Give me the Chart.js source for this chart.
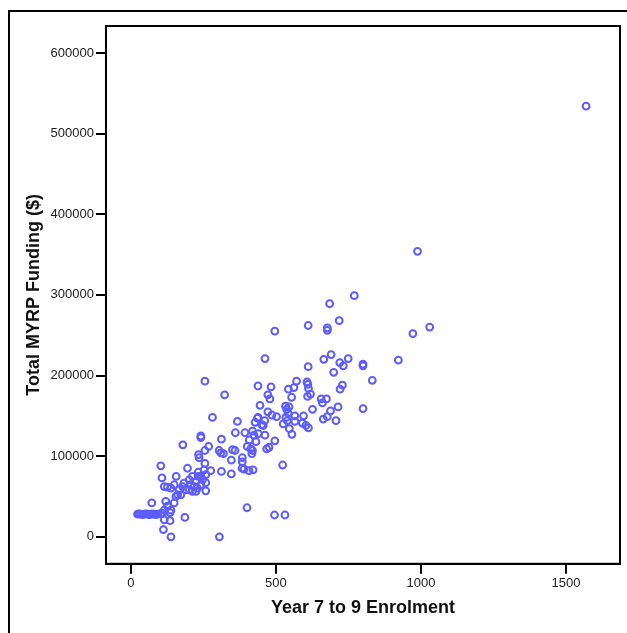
<!DOCTYPE html>
<html>
<head>
<meta charset="utf-8">
<script src="https://cdn.jsdelivr.net/npm/chart.js@4/dist/chart.umd.min.js"></script>
<style>
  html, body { margin: 0; padding: 0; background: #fff; overflow: hidden; }
  #wrap { position: relative; width: 627px; height: 633px; }
</style>
</head>
<body>
<div id="wrap"><canvas id="scatter" width="627" height="633"></canvas></div>
<script>
// Year 7 to 9 enrolment (x) against total MYRP funding in dollars (y)
const enrolment = [
  1569, 988, 1030, 972, 922, 770, 685, 611, 718, 677, 677, 496, 462, 690, 665, 720, 732, 749,
  800, 800, 611, 699, 832, 255, 571, 607, 610, 543, 562, 612, 729, 721, 438, 483, 323, 472,
  479, 554, 609, 619, 445, 533, 545, 656, 674, 660, 714, 800, 626, 688, 677, 663, 707, 537,
  542, 472, 486, 502, 438, 534, 539, 565, 565, 595, 591, 603, 612, 525, 546, 555, 367, 281,
  428, 451, 461, 456, 436, 393, 419, 424, 439, 360, 462, 312, 241, 241, 408, 431, 401, 413,
  417, 419, 496, 268, 255, 304, 310, 319, 350, 359, 346, 468, 476, 384, 384, 383, 390, 407,
  421, 523, 346, 312, 255, 275, 258, 258, 247, 258, 241, 179, 233, 235, 195, 103, 107, 156,
  72, 120, 126, 115, 109, 138, 149, 155, 161, 172,
  23, 28, 34, 40, 46, 52, 57, 63, 69, 75, 80, 86, 92, 103,
  135, 135, 115, 112, 138, 186, 305, 400, 495, 531,
  232, 224, 241, 218, 206, 201, 189, 212, 224, 229, 178, 166, 149, 138, 126, 115, 201, 212,
  252, 183, 232
];
const funding = [
  534000, 354000, 260000, 252000, 219000, 299000, 289000, 262000, 268000, 259000, 256000, 255000, 221000, 226000, 220000, 216000, 212000, 221000,
  214000, 212000, 211000, 204000, 194000, 193000, 193000, 192000, 189000, 183000, 185000, 184000, 188000, 183000, 187000, 186000, 176000, 176000,
  171000, 173000, 174000, 177000, 163000, 162000, 161000, 171000, 171000, 166000, 161000, 159000, 158000, 156000, 149000, 146000, 144000, 158000,
  153000, 155000, 151000, 149000, 148000, 148000, 144000, 150000, 143000, 150000, 141000, 138000, 135000, 140000, 134000, 127000, 143000, 148000,
  142000, 139000, 144000, 138000, 147000, 129000, 131000, 126000, 128000, 129000, 126000, 121000, 125000, 123000, 120000, 118000, 112000, 109000,
  103000, 107000, 119000, 112000, 107000, 107000, 104000, 103000, 108000, 107000, 95000, 109000, 111000, 98000, 93000, 85000, 84000, 82000,
  83000, 89000, 78000, 81000, 91000, 82000, 77000, 67000, 71000, 57000, 75000, 114000, 102000, 98000, 85000, 88000, 73000, 75000,
  42000, 44000, 38000, 33000, 29000, 33000, 42000, 50000, 52000, 52000,
  28000, 28500, 28000, 27500, 28000, 28500, 28000, 27500, 28000, 28500, 28000, 27500, 28000, 29000,
  30000, 20000, 21000, 9000, 0, 24000, 0, 36000, 27000, 27000,
  75000, 68500, 64500, 62300, 64500, 58300, 58300, 56200, 56200, 60400, 62300, 58300, 64500, 60400, 61600, 62300, 70700, 74800,
  83000, 66600, 80000
];
const xTicks = [0, 500, 1000, 1500];
const yTicks = [0, 100000, 200000, 300000, 400000, 500000, 600000];

const points = enrolment.map((x, i) => ({ x, y: funding[i] }));

// plot box on all four sides plus the outer frame lines at top and left
const frame = {
  id: 'frame',
  afterDraw(chart) {
    const { ctx, chartArea: a } = chart;
    ctx.save();
    ctx.strokeStyle = '#000';
    ctx.lineWidth = 2;
    ctx.strokeRect(a.left, a.top, a.right - a.left, a.bottom - a.top);
    ctx.beginPath();
    ctx.moveTo(9, 640);
    ctx.lineTo(9, 11);
    ctx.lineTo(640, 11);
    ctx.stroke();
    ctx.restore();
  }
};

const tickFont = { family: '"Liberation Sans", Arial, sans-serif', size: 13 };
const titleFont = { family: '"Liberation Sans", Arial, sans-serif', size: 18, weight: 'bold' };
const plain = (value) => String(value);

new Chart(document.getElementById('scatter'), {
  type: 'scatter',
  data: {
    datasets: [{
      label: 'Total MYRP Funding',
      data: points,
      pointStyle: 'circle',
      pointRadius: 3.4,
      pointHoverRadius: 3.4,
      borderWidth: 2,
      borderColor: 'rgb(92, 92, 255)',
      backgroundColor: 'rgba(0, 0, 0, 0)'
    }]
  },
  options: {
    responsive: false,
    animation: false,
    layout: { padding: { left: 23, right: 7, top: 26, bottom: 14 } },
    plugins: {
      legend: { display: false },
      tooltip: { enabled: false }
    },
    scales: {
      x: {
        type: 'linear',
        min: -86,
        max: 1686,
        afterBuildTicks: (axis) => { axis.ticks = xTicks.map((v) => ({ value: v })); },
        ticks: { color: '#222', font: tickFont, padding: 2, callback: plain },
        grid: { drawOnChartArea: false, drawTicks: true, tickLength: 10, color: '#000', lineWidth: 2 },
        border: { display: true, color: '#000', width: 2 },
        title: { display: true, text: 'Year 7 to 9 Enrolment', color: '#111', font: titleFont, padding: { top: 4, bottom: 0 } }
      },
      y: {
        type: 'linear',
        min: -33500,
        max: 633400,
        afterBuildTicks: (axis) => { axis.ticks = yTicks.map((v) => ({ value: v })); },
        ticks: { color: '#222', font: tickFont, padding: 2, callback: plain },
        grid: { drawOnChartArea: false, drawTicks: true, tickLength: 10, color: '#000', lineWidth: 2 },
        border: { display: true, color: '#000', width: 2 },
        title: { display: true, text: 'Total MYRP Funding ($)', color: '#111', font: titleFont, padding: { top: 0, bottom: 4 } }
      }
    }
  },
  plugins: [frame]
});
</script>
</body>
</html>
